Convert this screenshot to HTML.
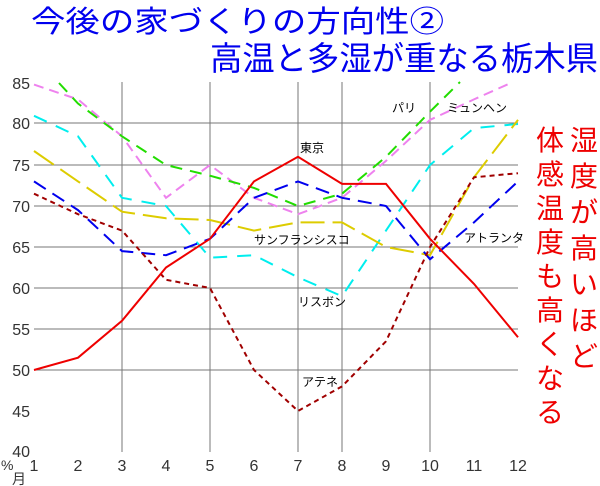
<!DOCTYPE html>
<html><head><meta charset="utf-8"><style>
html,body{margin:0;padding:0;background:#fff;}
svg{display:block;}
text{font-family:"Liberation Sans","Noto Sans CJK JP",sans-serif;}
</style></head><body>
<svg width="600" height="486" viewBox="0 0 600 486" xmlns="http://www.w3.org/2000/svg">
<rect width="600" height="486" fill="#fff"/>
<text x="31" y="32" font-size="30" fill="#0000ee" textLength="413" lengthAdjust="spacingAndGlyphs">今後の家づくりの方向性②</text>
<text x="210" y="70" font-size="33" fill="#0000ee" textLength="388" lengthAdjust="spacingAndGlyphs">高温と多湿が重なる栃木県</text>
<g stroke="#777" stroke-width="1">
<line x1="34" y1="123" x2="518" y2="123"/><line x1="34" y1="165" x2="518" y2="165"/>
<line x1="34" y1="206" x2="518" y2="206"/><line x1="34" y1="247" x2="518" y2="247"/>
<line x1="34" y1="288" x2="518" y2="288"/><line x1="34" y1="329" x2="518" y2="329"/>
<line x1="34" y1="370" x2="518" y2="370"/>
<line x1="122" y1="82" x2="122" y2="452"/><line x1="210" y1="82" x2="210" y2="452"/>
<line x1="298" y1="82" x2="298" y2="452"/><line x1="342" y1="82" x2="342" y2="452"/>
<line x1="430" y1="82" x2="430" y2="452"/>
</g>
<g font-size="16" fill="#333" text-anchor="end">
<text x="30" y="89">85</text><text x="30" y="129">80</text><text x="30" y="171">75</text>
<text x="30" y="212">70</text><text x="30" y="253">65</text><text x="30" y="294">60</text>
<text x="30" y="335">55</text><text x="30" y="376">50</text><text x="30" y="417">45</text>
<text x="30" y="457">40</text>
</g>
<g font-size="16" fill="#333" text-anchor="middle">
<text x="34" y="471">1</text><text x="78" y="471">2</text><text x="122" y="471">3</text>
<text x="166" y="471">4</text><text x="210" y="471">5</text><text x="254" y="471">6</text>
<text x="298" y="471">7</text><text x="342" y="471">8</text><text x="386" y="471">9</text>
<text x="430" y="471">10</text><text x="474" y="471">11</text><text x="518" y="471">12</text>
</g>
<text x="1" y="470" font-size="14" fill="#333">%</text>
<text x="12" y="484" font-size="14" fill="#333">月</text>
<g fill="none" stroke-width="2">
<polyline stroke="#ee82ee" stroke-dasharray="10,6" points="34,84.6 78,99.4 122,136.3 166,197.8 210,165 254,197.8 298,214.2 342,197.8 386,160.9 430,119.9 474,99.4 513,82"/>
<polyline stroke="#22dd00" stroke-dasharray="12,8" points="59,83 78,103.5 122,136.3 166,165 210,175.7 254,187.9 298,206 342,193.7 386,156.8 430,111.7 460,82"/>
<polyline stroke="#00eeee" stroke-dasharray="14,10" points="34,115.8 78,136.3 122,197.8 166,206 210,257.7 254,255.2 298,277.3 342,296.2 386,230.6 430,165 474,128.1 518,124"/>
<polyline stroke="#ddcc00" stroke-dasharray="24,8" points="34,151 78,181.4 122,211.7 166,218.3 210,220 254,230.6 298,222.4 342,222.4 386,247 430,255.2 474,177.3 518,119.9"/>
<polyline stroke="#0000ee" stroke-dasharray="14,8" points="34,181.4 78,210.1 122,251.1 166,255.2 210,238.8 254,197.8 298,181.4 342,197.8 386,206 430,259.3 474,222.4 518,181.4"/>
<polyline stroke="#a00000" stroke-dasharray="5,4" points="34,193.7 78,214.2 122,230.6 166,279.8 210,288 254,370 298,411 342,386.4 386,341.3 430,247 474,177.3 518,173.2"/>
<polyline stroke="#ee0000" points="34,370 78,357.7 122,320.8 166,267.5 210,238.8 254,181.4 298,156.8 342,183.9 386,183.9 430,238.8 474,283.9 518,337.2"/>
</g>
<g font-size="12" fill="#000">
<text x="392" y="112">パリ</text><text x="447" y="112">ミュンヘン</text>
<text x="300" y="152">東京</text><text x="254" y="244">サンフランシスコ</text>
<text x="464" y="242">アトランタ</text><text x="298" y="306">リスボン</text>
<text x="302" y="386">アテネ</text>
</g>
<g font-size="28" fill="#ee0000" text-anchor="middle">
<text x="584" y="150">湿</text><text x="584" y="186">度</text><text x="584" y="222">が</text>
<text x="584" y="258">高</text><text x="584" y="294">い</text><text x="584" y="330">ほ</text>
<text x="584" y="366">ど</text>
<text x="550" y="150">体</text><text x="550" y="184">感</text><text x="550" y="218">温</text>
<text x="550" y="252">度</text><text x="550" y="286">も</text><text x="550" y="320">高</text>
<text x="550" y="354">く</text><text x="550" y="388">な</text><text x="550" y="422">る</text>
</g>
</svg>
</body></html>
